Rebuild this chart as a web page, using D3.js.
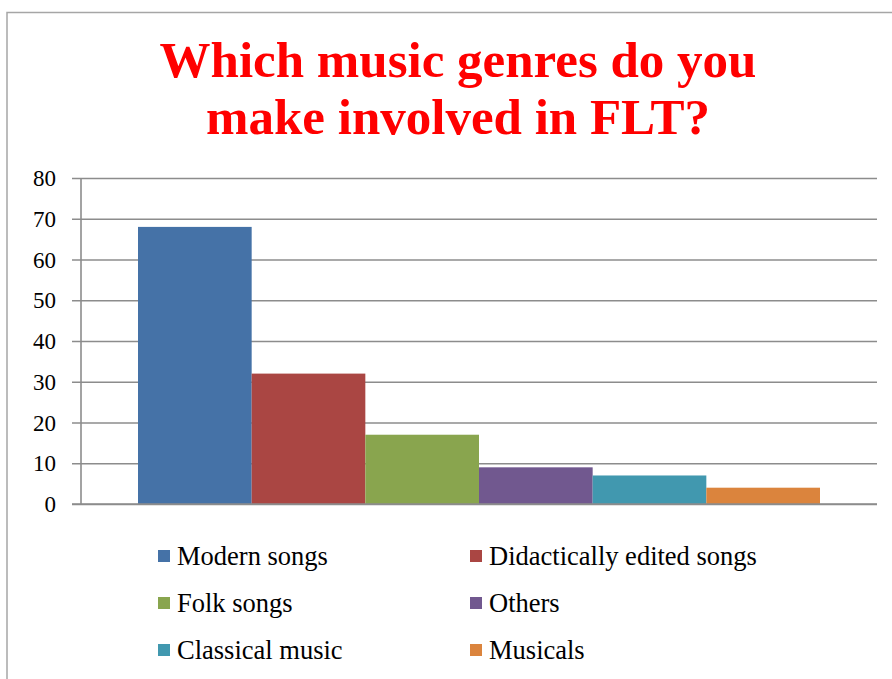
<!DOCTYPE html>
<html><head><meta charset="utf-8">
<script src="https://cdn.jsdelivr.net/npm/d3@7"></script>
<style>body{margin:0;background:#fff}svg{display:block}</style>
</head><body>
<script>
const categories = ["Modern songs","Didactically edited songs","Folk songs","Others","Classical music","Musicals"];
const values = [68, 32, 17, 9, 7, 4];
const colors = ["#4572A7","#AA4643","#89A54E","#71588F","#4198AF","#DB843D"];
const yTicks = [0,10,20,30,40,50,60,70,80];
const titleLines = ["Which music genres do you","make involved in FLT?"];

const W = 892, H = 679;
const svg = d3.select("body").append("svg").attr("width", W).attr("height", H);
const font = "'Liberation Serif', 'DejaVu Serif', serif";

// border
svg.append("path").attr("d", "M7,679 V12.5 H892").attr("fill","none").attr("stroke","#a6a6a6").attr("stroke-width",1.5);

// title
svg.append("g").selectAll("text").data(titleLines).join("text")
  .attr("x", 458).attr("y", (d,i)=>77 + i*57)
  .attr("text-anchor","middle").attr("fill","#FF0000")
  .attr("font-family", font).attr("font-weight","bold").attr("font-size", 51)
  .text(d=>d);

const plot = {left:81, right:877, top:178, bottom:504};
const y = d3.scaleLinear().domain([0,80]).range([plot.bottom, plot.top]);
const x = d3.scaleBand().domain(categories).range([plot.left+57, plot.right-57]).padding(0);

// gridlines
const yAxis = d3.axisLeft(y).tickValues(yTicks).tickSize(-(plot.right-plot.left)).tickPadding(0).tickFormat("");
const gy = svg.append("g").attr("transform",`translate(${plot.left},0)`).call(yAxis);
gy.select(".domain").remove();
gy.selectAll("line").attr("stroke","#8c8c8c").attr("stroke-width",1.6).attr("x1",-9);

// tick labels
svg.append("g").selectAll("text").data(yTicks).join("text")
  .attr("x", 56).attr("y", d=>y(d)+8)
  .attr("text-anchor","end").attr("font-family",font).attr("font-size",23).attr("fill","#000")
  .text(d=>d);

// bars
svg.append("g").selectAll("rect").data(values).join("rect")
  .attr("x",(d,i)=>x(categories[i])).attr("width",x.bandwidth())
  .attr("y",d=>y(d)).attr("height",d=>y(0)-y(d))
  .attr("fill",(d,i)=>colors[i]);

// axis lines
svg.append("line").attr("x1",plot.left).attr("x2",plot.left).attr("y1",plot.top).attr("y2",plot.bottom)
  .attr("stroke","#8c8c8c").attr("stroke-width",1.6);
svg.append("line").attr("x1",plot.left-9).attr("x2",plot.right).attr("y1",plot.bottom).attr("y2",plot.bottom)
  .attr("stroke","#8c8c8c").attr("stroke-width",1.6);

// legend
const legX = [158, 470], legY = [556, 603, 650];
const lg = svg.append("g").selectAll("g").data(categories).join("g")
  .attr("transform",(d,i)=>`translate(${legX[i%2]},${legY[Math.floor(i/2)]})`);
lg.append("rect").attr("x",0).attr("y",-6).attr("width",12).attr("height",12).attr("fill",(d,i)=>colors[i]);
lg.append("text").attr("x",19).attr("y",9).attr("font-family",font).attr("font-size",26.5).attr("fill","#000").text(d=>d);
</script>
</body></html>
